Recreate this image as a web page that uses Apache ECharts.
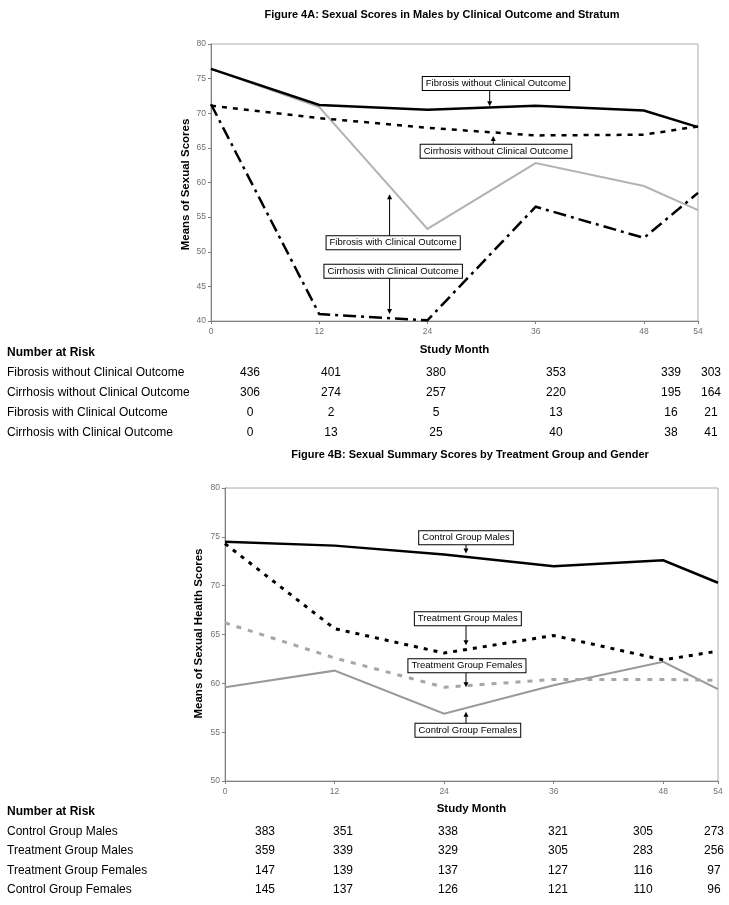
<!DOCTYPE html>
<html>
<head>
<meta charset="utf-8">
<script src="https://cdn.jsdelivr.net/npm/echarts@6/dist/echarts.min.js"></script>
<style>
html,body{margin:0;padding:0;background:#fff;}
#c{width:729px;height:905px;}
</style>
</head>
<body>
<div id="c"></div>
<script>
// ---------- DATA ----------
const months = [0, 12, 24, 36, 48, 54];
const xTickLabels = [0, 12, 24, 36, 48, 54];

// Figure 4A
const titleA = 'Figure 4A: Sexual Scores in Males by Clinical Outcome and Stratum';
const yTitleA = 'Means of Sexual Scores';
const fibNoCO = [76.4, 71.2, 70.5, 71.1, 70.4, 68.0];
const cirNoCO = [71.1, 69.3, 67.9, 66.8, 66.9, 68.1];
const fibCO   = [76.4, 70.9, 53.3, 62.8, 59.5, 56.0];
const cirCO   = [71.3, 41.0, 40.1, 56.5, 52.0, 58.5];
const seriesNamesA = ['Fibrosis without Clinical Outcome', 'Cirrhosis without Clinical Outcome',
                      'Fibrosis with Clinical Outcome', 'Cirrhosis with Clinical Outcome'];
const riskA_fibNoCO = [436, 401, 380, 353, 339, 303];
const riskA_cirNoCO = [306, 274, 257, 220, 195, 164];
const riskA_fibCO   = [0, 2, 5, 13, 16, 21];
const riskA_cirCO   = [0, 13, 25, 40, 38, 41];

// Figure 4B
const titleB = 'Figure 4B: Sexual Summary Scores by Treatment Group and Gender';
const yTitleB = 'Means of Sexual Health Scores';
const ctrlM = [74.5, 74.1, 73.2, 72.0, 72.6, 70.3];
const trtM  = [74.3, 65.6, 63.1, 64.9, 62.4, 63.3];
const trtF  = [66.2, 62.6, 59.6, 60.4, 60.4, 60.3];
const ctrlF = [59.6, 61.3, 56.9, 59.8, 62.2, 59.4];
const seriesNamesB = ['Control Group Males', 'Treatment Group Males',
                      'Treatment Group Females', 'Control Group Females'];
const riskB_ctrlM = [383, 351, 338, 321, 305, 273];
const riskB_trtM  = [359, 339, 329, 305, 283, 256];
const riskB_trtF  = [147, 139, 137, 127, 116, 97];
const riskB_ctrlF = [145, 137, 126, 121, 110, 96];

const xTitle = 'Study Month';
const riskHeader = 'Number at Risk';

// ---------- LAYOUT / STYLE ----------
const FONT = '"Liberation Sans", Arial, sans-serif';
const gridA = {left: 211, top: 44, width: 487, height: 277};
const gridB = {left: 225, top: 488, width: 493, height: 293};
const tableA = {headerY: 353, rowY: [373, 393, 413, 433], colX: [250, 331, 436, 556, 671, 711]};
const tableB = {headerY: 812, rowY: [832, 851, 871, 890], colX: [265, 343, 448, 558, 643, 714]};

// annotation placements (data space of each grid)
const annA = [
  {text: seriesNamesA[0], box: [31.6, 74.3], tip: [30.9, 71.0]},
  {text: seriesNamesA[1], box: [31.6, 64.5], tip: [31.3, 66.7]},
  {text: seriesNamesA[2], box: [20.2, 51.3], tip: [19.8, 58.3]},
  {text: seriesNamesA[3], box: [20.2, 47.2], tip: [19.8, 41.0]}
];
const annB = [
  {text: seriesNamesB[0], box: [26.4, 74.9], tip: [26.4, 73.3]},
  {text: seriesNamesB[1], box: [26.6, 66.6], tip: [26.4, 63.9]},
  {text: seriesNamesB[2], box: [26.5, 61.8], tip: [26.4, 59.6]},
  {text: seriesNamesB[3], box: [26.6, 55.2], tip: [26.4, 57.1]}
];

const pts = arr => months.map((m, i) => [m, arr[i]]);

function xAxisCfg(gi) {
  return {
    type: 'value', gridIndex: gi, min: 0, max: 54,
    axisLine: {show: true, onZero: false, lineStyle: {color: '#808080', width: 1}},
    axisTick: {show: true, inside: false, length: 3, customValues: xTickLabels, lineStyle: {color: '#808080'}},
    axisLabel: {customValues: xTickLabels, fontSize: 8.5, color: '#707070', fontFamily: FONT, margin: 6},
    splitLine: {show: false}
  };
}
function yAxisCfg(gi, min) {
  return {
    type: 'value', gridIndex: gi, min: min, max: 80, interval: 5,
    axisLine: {show: true, onZero: false, lineStyle: {color: '#808080', width: 1}},
    axisTick: {show: true, inside: false, length: 3, lineStyle: {color: '#808080'}},
    axisLabel: {fontSize: 8.5, color: '#707070', fontFamily: FONT, margin: 5},
    splitLine: {show: false}
  };
}
function line(name, gi, data, color, width, type) {
  return {
    name: name, type: 'line', xAxisIndex: gi, yAxisIndex: gi,
    data: pts(data), symbol: 'none', showSymbol: false, animation: false,
    lineStyle: {color: color, width: width, type: type, cap: 'butt', join: 'miter'},
    emphasis: {disabled: true}
  };
}

const chart = echarts.init(document.getElementById('c'));
chart.setOption({
  animation: false,
  backgroundColor: '#ffffff',
  grid: [
    Object.assign({show: true, borderColor: '#aaaaaa', borderWidth: 1, backgroundColor: '#fff'}, gridA),
    Object.assign({show: true, borderColor: '#aaaaaa', borderWidth: 1, backgroundColor: '#fff'}, gridB)
  ],
  xAxis: [xAxisCfg(0), xAxisCfg(1)],
  yAxis: [yAxisCfg(0, 40), yAxisCfg(1, 50)],
  series: [
    line(seriesNamesA[2], 0, fibCO, '#b3b3b3', 2, 'solid'),
    line(seriesNamesA[0], 0, fibNoCO, '#000000', 2.5, 'solid'),
    line(seriesNamesA[1], 0, cirNoCO, '#000000', 2.5, [5, 6]),
    line(seriesNamesA[3], 0, cirCO, '#000000', 2.5, [13, 5, 3, 5]),
    line(seriesNamesB[3], 1, ctrlF, '#999999', 2, 'solid'),
    line(seriesNamesB[2], 1, trtF, '#a6a6a6', 3, [5, 7]),
    line(seriesNamesB[0], 1, ctrlM, '#000000', 2.5, 'solid'),
    line(seriesNamesB[1], 1, trtM, '#000000', 3, [4, 6])
  ]
});

// ---------- GRAPHICS: titles, annotations, tables ----------
const g = [];
function txt(x, y, s, opt) {
  g.push({
    type: 'text', x: x, y: y, rotation: (opt && opt.rot) || 0, z: 100,
    style: Object.assign({text: String(s), fill: '#000', font: (opt && opt.font) || ('12px ' + FONT),
      align: (opt && opt.align) || 'left', verticalAlign: 'middle'}, (opt && opt.extra) || {})
  });
}
// titles
txt(442, 15, titleA, {font: 'bold 11px ' + FONT, align: 'center'});
txt(470, 455, titleB, {font: 'bold 11px ' + FONT, align: 'center'});
// y-axis titles
txt(186, gridA.top + gridA.height / 2 + 2, yTitleA, {font: 'bold 11.5px ' + FONT, align: 'center', rot: Math.PI / 2});
txt(199, gridB.top + gridB.height / 2 - 1, yTitleB, {font: 'bold 11.5px ' + FONT, align: 'center', rot: Math.PI / 2});
// x-axis titles
txt(gridA.left + gridA.width / 2, 350, xTitle, {font: 'bold 11.5px ' + FONT, align: 'center'});
txt(gridB.left + gridB.width / 2, 809, xTitle, {font: 'bold 11.5px ' + FONT, align: 'center'});

// annotations
function annotate(list, gi) {
  list.forEach(a => {
    const c = chart.convertToPixel({gridIndex: gi}, a.box);
    const t = chart.convertToPixel({gridIndex: gi}, a.tip);
    const halfH = 7;
    txt(c[0], c[1], a.text, {font: '9.5px ' + FONT, align: 'center',
      extra: {backgroundColor: '#fff', borderColor: '#000', borderWidth: 1, padding: [2, 3, 1, 3]}});
    const down = t[1] > c[1];
    const y0 = down ? c[1] + halfH : c[1] - halfH;
    const dir = down ? 1 : -1;
    const tipY = t[1];
    const x = t[0];
    g.push({type: 'line', z: 90, shape: {x1: x, y1: y0, x2: x, y2: tipY - dir * 4},
      style: {stroke: '#000', lineWidth: 1}});
    g.push({type: 'polygon', z: 90, shape: {points: [[x - 2.5, tipY - dir * 5], [x + 2.5, tipY - dir * 5], [x, tipY]]},
      style: {fill: '#000'}});
  });
}
annotate(annA, 0);
annotate(annB, 1);

// risk tables
function table(tb, labels, rows) {
  txt(7, tb.headerY, riskHeader, {font: 'bold 12px ' + FONT});
  rows.forEach((r, i) => {
    txt(7, tb.rowY[i], labels[i], {font: '12px ' + FONT});
    r.forEach((v, j) => txt(tb.colX[j], tb.rowY[i], v, {font: '12px ' + FONT, align: 'center'}));
  });
}
table(tableA, seriesNamesA, [riskA_fibNoCO, riskA_cirNoCO, riskA_fibCO, riskA_cirCO]);
table(tableB, seriesNamesB, [riskB_ctrlM, riskB_trtM, riskB_trtF, riskB_ctrlF]);

chart.setOption({graphic: {elements: g}});
</script>
</body>
</html>
